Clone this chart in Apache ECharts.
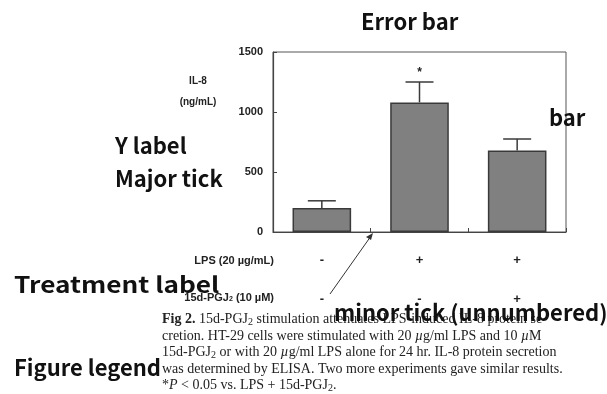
<!DOCTYPE html>
<html>
<head>
<meta charset="utf-8">
<script src="https://cdn.jsdelivr.net/npm/echarts@6/dist/echarts.min.js"></script>
<style>
  html, body { margin: 0; padding: 0; background: #fff; }
  #chart { width: 607px; height: 394px; }
</style>
</head>
<body>
<div id="chart"></div>
<script>
// groups (x categories)
var groups = ['Control', 'LPS', 'LPS + 15d-PGJ2'];
// IL-8 ng/mL
var il8Mean = [200, 1080, 680];
var il8Err = [60, 170, 95];
var sigMark = ['', '*', ''];
// treatment rows under the axis
var lpsSign = ['-', '+', '+'];
var pgjSign = ['-', '-', '+'];
var yTicks = [0, 500, 1000, 1500];

var chart = echarts.init(document.getElementById('chart'));

var annoFont = '"Noto Sans CJK KR", "Open Sans", sans-serif';
var smallFont = 'Arial, "Liberation Sans", sans-serif';
var serif = '"Liberation Serif", "Times New Roman", serif';

function annot(x, y, txt, sx) {
  return {
    type: 'text', x: x, y: y - 11, scaleX: sx || 1, z: 100,
    style: { text: txt, font: 'bold 22px ' + annoFont, fill: '#111' }
  };
}

var capRich = {
  b: { fontFamily: serif, fontSize: 14, fontWeight: 'bold', fill: '#222' },
  s: { fontFamily: serif, fontSize: 10, verticalAlign: 'bottom', padding: [6, 0, 0, 0] },
  i: { fontFamily: serif, fontSize: 14, fontStyle: 'italic' }
};
var capLines = [
  '{b|Fig 2.} 15d-PGJ{s|2} stimulation attenuates LPS-induced IL-8 protein se-',
  'cretion. HT-29 cells were stimulated with 20 {i|µ}g/ml LPS and 10 {i|µ}M',
  '15d-PGJ{s|2} or with 20 {i|µ}g/ml LPS alone for 24 hr. IL-8 protein secretion',
  'was determined by ELISA. Two more experiments gave similar results.',
  '*{i|P} < 0.05 vs. LPS + 15d-PGJ{s|2}.'
];
var capY = [321, 338, 354, 371, 387];

var graphics = [];
capLines.forEach(function (t, k) {
  graphics.push({
    type: 'text', left: 162, top: capY[k] - 9, z: 10,
    style: { text: t, rich: capRich, font: '14px ' + serif, fill: '#222' }
  });
});
graphics.push(
  {
    type: 'text', x: 198, y: 71, z: 20,
    style: { text: 'IL-8\n(ng/mL)', font: 'bold 10px ' + smallFont, fill: '#222', textAlign: 'center', lineHeight: 21 }
  },
  {
    type: 'text', right: 607 - 274, top: 255, z: 20,
    style: { text: 'LPS (20 µg/mL)', font: 'bold 11px ' + smallFont, fill: '#222', textAlign: 'right' }
  },
  {
    type: 'text', right: 607 - 274, top: 292, z: 20,
    style: {
      text: '15d-PGJ{s|2} (10 µM)', font: 'bold 11px ' + smallFont, fill: '#222', textAlign: 'right',
      rich: { s: { fontSize: 7, fontWeight: 'bold', fontFamily: smallFont, padding: [4, 0, 0, 0] } }
    }
  },
  annot(361, 22, 'Error bar'),
  annot(549, 118, 'bar'),
  annot(115, 146, 'Y label'),
  annot(115, 179, 'Major tick'),
  annot(14, 285, 'Treatment label', 1.19),
  annot(334, 313, 'minor tick (unnumbered)'),
  annot(14, 368, 'Figure legend'),
  {
    type: 'line', z: 50,
    shape: { x1: 330, y1: 294, x2: 371, y2: 236 },
    style: { stroke: '#333', lineWidth: 1 }
  },
  {
    type: 'polygon', z: 50,
    shape: { points: [[373, 233], [366, 237], [371, 240]] },
    style: { fill: '#333' }
  }
);

chart.setOption({
  backgroundColor: '#fff',
  animation: false,
  grid: {
    left: 273,
    right: 41,
    top: 52,
    bottom: 162,
    show: true,
    borderColor: '#555',
    borderWidth: 1
  },
  xAxis: {
    type: 'category',
    data: groups,
    axisLine: { lineStyle: { color: '#444', width: 1.2 } },
    axisTick: { show: true, inside: true, length: 4, lineStyle: { color: '#444' } },
    axisLabel: {
      margin: 9,
      lineHeight: 39,
      fontSize: 13,
      fontWeight: 'bold',
      color: '#222',
      fontFamily: smallFont,
      formatter: function (v, i) {
        return lpsSign[i] + '\n' + pgjSign[i];
      }
    }
  },
  yAxis: {
    type: 'value',
    min: 0,
    max: yTicks[yTicks.length - 1],
    interval: 500,
    axisLine: { show: true, lineStyle: { color: '#444', width: 1.2 } },
    axisTick: { show: true, inside: true, length: 4, lineStyle: { color: '#444' } },
    splitLine: { show: false },
    axisLabel: {
      margin: 10,
      fontSize: 11,
      fontWeight: 'bold',
      color: '#222',
      fontFamily: smallFont,
      formatter: function (v) { return String(v); }
    }
  },
  series: [
    {
      name: 'IL-8',
      type: 'bar',
      data: il8Mean,
      barWidth: '60%',
      itemStyle: { color: '#808080', borderColor: '#3a3a3a', borderWidth: 1.5 },
      z: 2
    },
    {
      name: 'error',
      type: 'custom',
      z: 3,
      data: il8Mean.map(function (m, i) { return [i, m, m + il8Err[i]]; }),
      renderItem: function (params, api) {
        var i = api.value(0);
        var base = api.coord([i, api.value(1)]);
        var top = api.coord([i, api.value(2)]);
        var half = 14;
        var kids = [
          { type: 'line', shape: { x1: base[0], y1: base[1], x2: top[0], y2: top[1] },
            style: { stroke: '#3a3a3a', lineWidth: 1.5 } },
          { type: 'line', shape: { x1: top[0] - half, y1: top[1], x2: top[0] + half, y2: top[1] },
            style: { stroke: '#3a3a3a', lineWidth: 1.5 } }
        ];
        if (sigMark[i]) {
          kids.push({
            type: 'text', x: top[0], y: top[1] - 3,
            style: { text: sigMark[i], font: 'bold 12px ' + smallFont, fill: '#222', textAlign: 'center', textVerticalAlign: 'bottom' }
          });
        }
        return { type: 'group', children: kids };
      }
    }
  ],
  graphic: graphics
});
</script>
</body>
</html>
